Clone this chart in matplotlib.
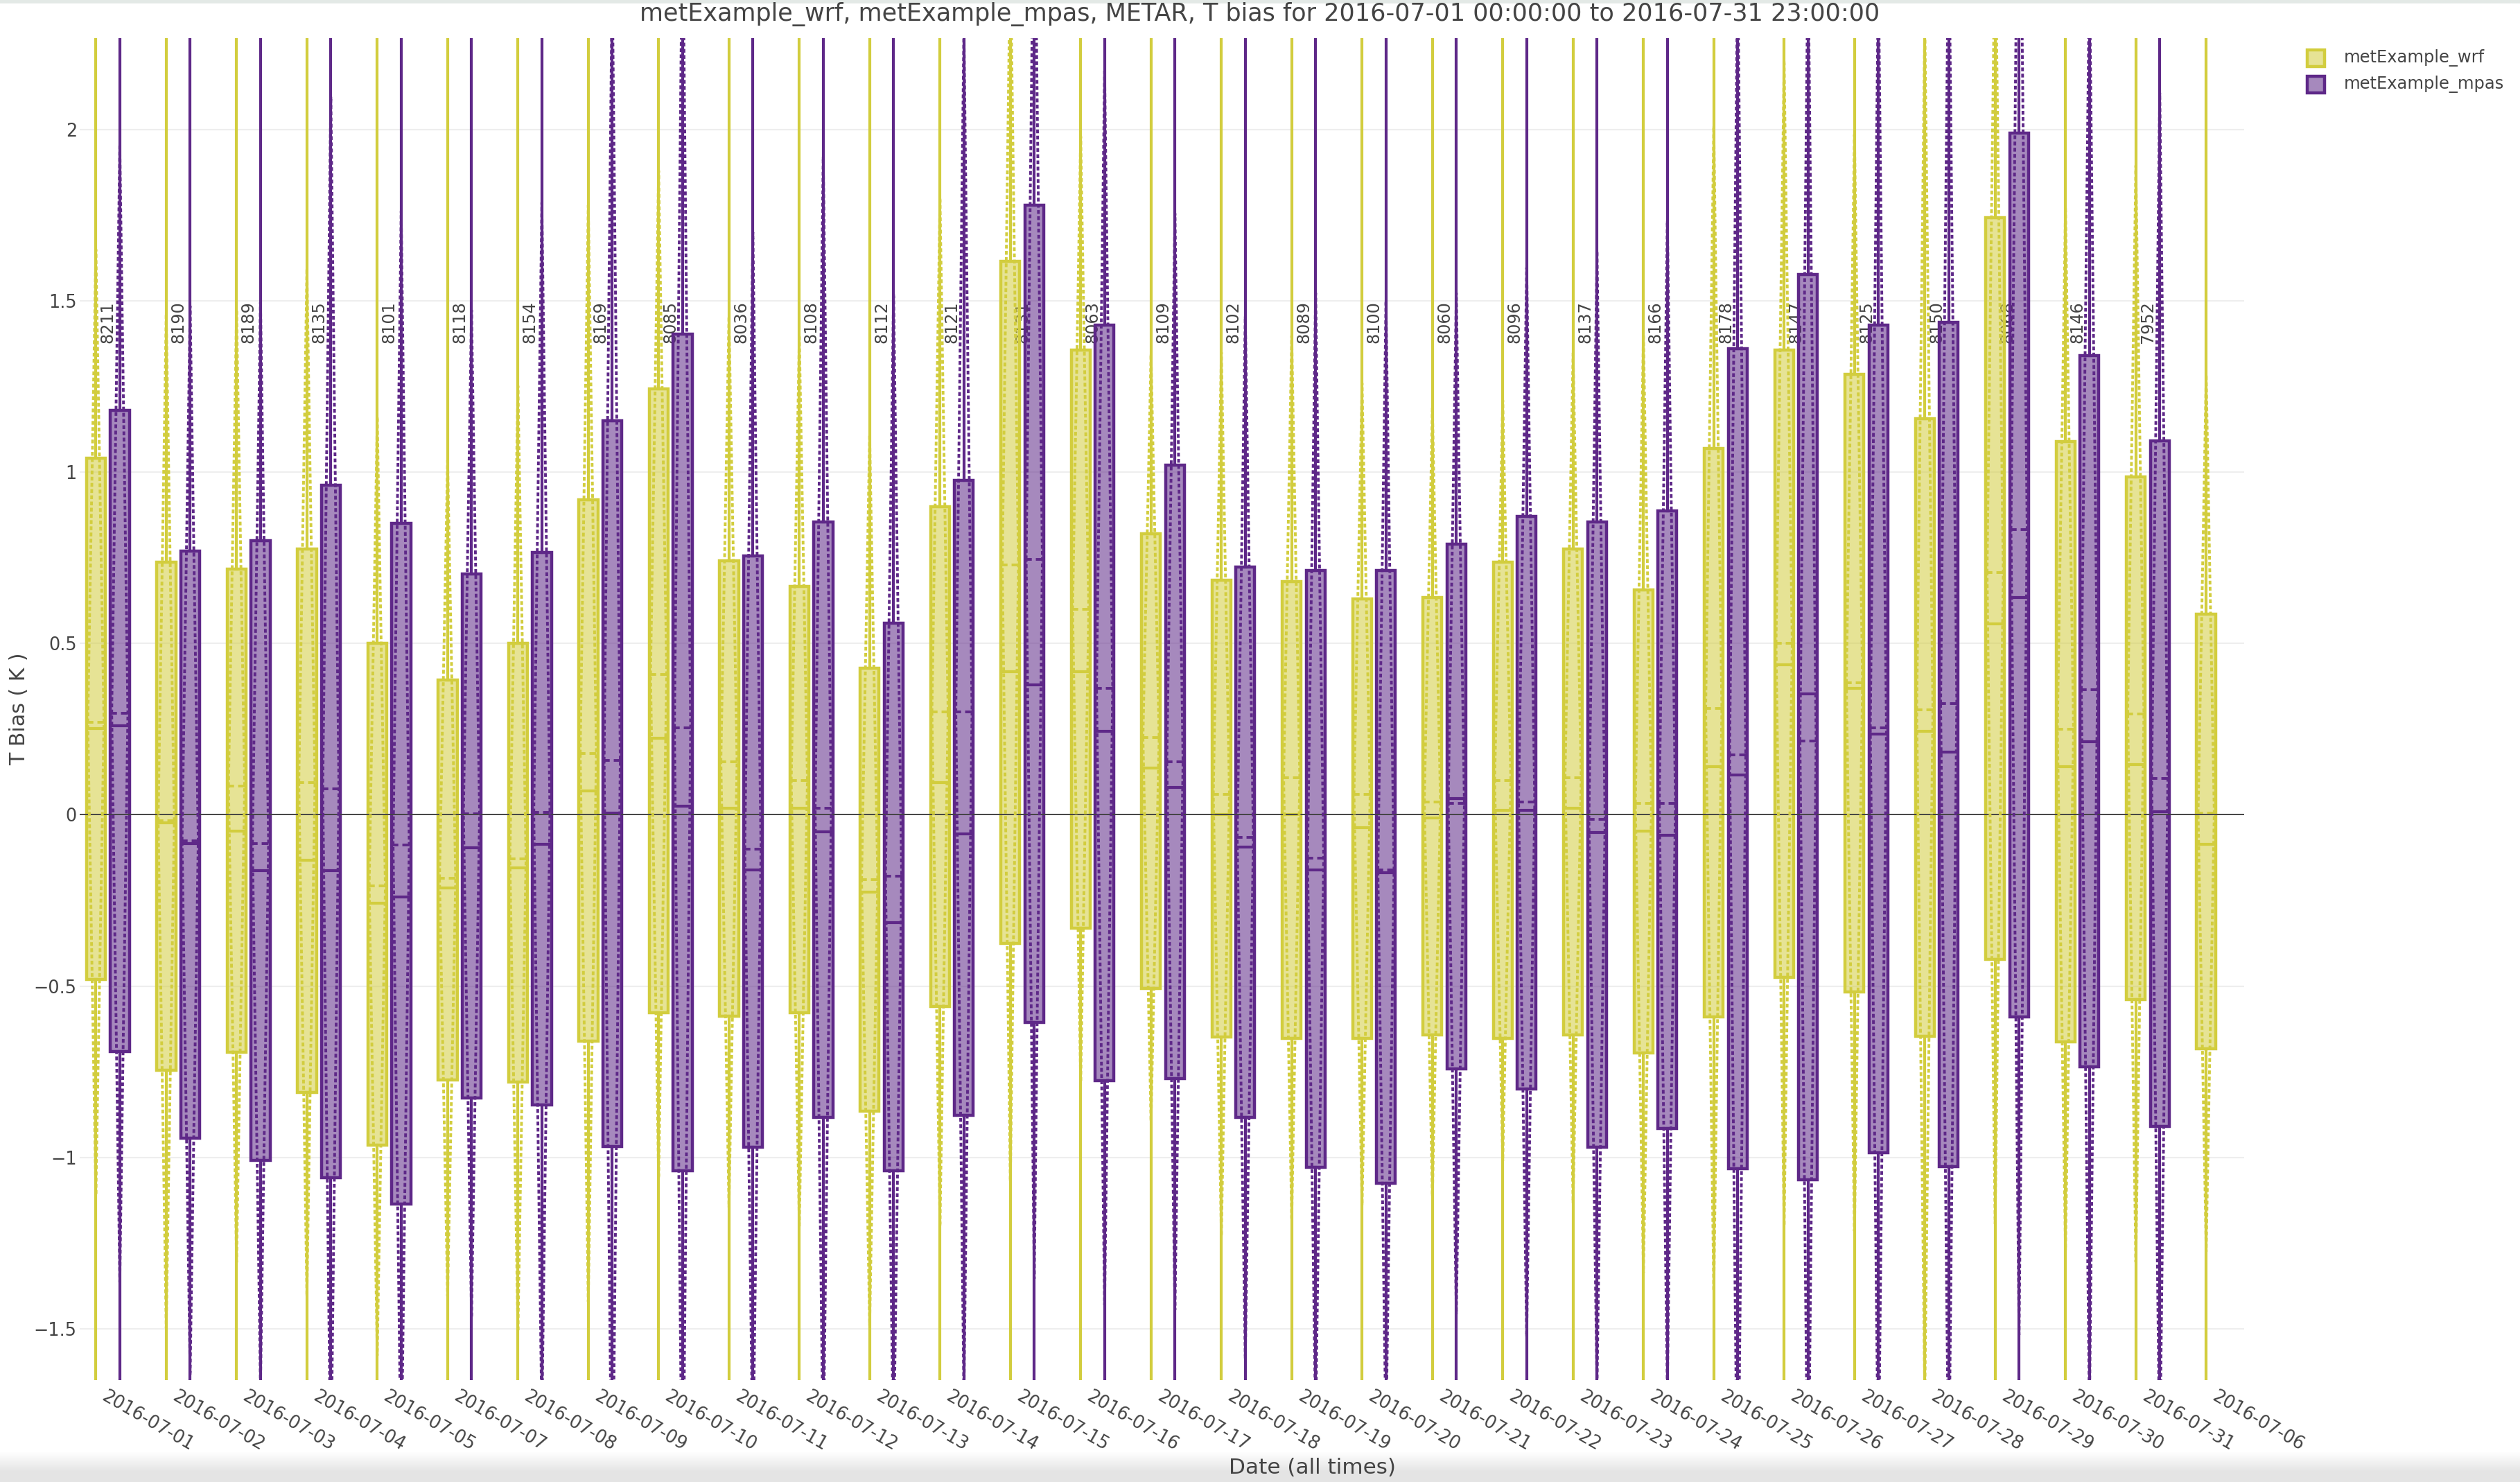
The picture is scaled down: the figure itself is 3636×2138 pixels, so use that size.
"""
box plot of T bias per day for wrf and mpas vs METAR
"""

import numpy as np
import matplotlib
matplotlib.use("Agg")
import matplotlib.pyplot as plt
from matplotlib.patches import Rectangle
from matplotlib.colors import LinearSegmentedColormap


# days on the x axis (07-06 comes last, it only has wrf data)
dates = ['2016-07-01', '2016-07-02', '2016-07-03', '2016-07-04', '2016-07-05',
         '2016-07-07', '2016-07-08', '2016-07-09', '2016-07-10', '2016-07-11',
         '2016-07-12', '2016-07-13', '2016-07-14', '2016-07-15', '2016-07-16',
         '2016-07-17', '2016-07-18', '2016-07-19', '2016-07-20', '2016-07-21',
         '2016-07-22', '2016-07-23', '2016-07-24', '2016-07-25', '2016-07-26',
         '2016-07-27', '2016-07-28', '2016-07-29', '2016-07-30', '2016-07-31',
         '2016-07-06']

# metExample_wrf box stats
wrf_q1 = [-0.48, -0.745, -0.692, -0.81, -0.965, -0.773, -0.779, -0.66, -0.578, -0.587,
          -0.577, -0.864, -0.56, -0.376, -0.33, -0.507, -0.648, -0.653, -0.653, -0.643,
          -0.653, -0.643, -0.695, -0.59, -0.474, -0.516, -0.647, -0.421, -0.662, -0.539,
          -0.682]
wrf_med = [0.252, -0.023, -0.047, -0.132, -0.258, -0.213, -0.154, 0.07, 0.224, 0.02,
           0.02, -0.225, 0.094, 0.418, 0.418, 0.136, 0.0, 0.0, -0.038, -0.01,
           0.014, 0.02, -0.047, 0.14, 0.437, 0.37, 0.244, 0.557, 0.141, 0.146,
           -0.087]
wrf_q3 = [1.04, 0.737, 0.718, 0.775, 0.5, 0.394, 0.5, 0.92, 1.244, 0.742,
          0.667, 0.427, 0.9, 1.615, 1.357, 0.82, 0.685, 0.68, 0.63, 0.634,
          0.737, 0.775, 0.657, 1.07, 1.357, 1.286, 1.157, 1.743, 1.09, 0.987,
          0.586]
wrf_mean = [0.27, -0.018, 0.084, 0.095, -0.208, -0.185, -0.128, 0.179, 0.41, 0.155,
            0.1, -0.19, 0.3, 0.73, 0.6, 0.225, 0.06, 0.108, 0.06, 0.037,
            0.1, 0.108, 0.033, 0.31, 0.5, 0.385, 0.307, 0.707, 0.25, 0.295,
            0.005]
wrf_sd = [1.38, 1.48, 1.39, 1.5, 1.37, 1.22, 1.38, 1.6, 1.47, 1.3,
          1.3, 1.3, 1.5, 1.8, 1.38, 1.12, 1.29, 1.29, 1.2, 1.15,
          1.11, 1.24, 1.37, 1.7, 1.7, 1.6, 2.0, 1.9, 1.52, 1.6,
          1.28]
wrf_whiskers = (-9.0, 9.0)  # whisker ends are off the chart

# metExample_mpas box stats (no data for 07-06)
mpas_q1 = [-0.69, -0.944, -1.009, -1.059, -1.136, -0.827, -0.846, -0.969, -1.038, -0.97,
           -0.883, -1.038, -0.878, -0.606, -0.775, -0.77, -0.883, -1.028, -1.075, -0.742,
           -0.8, -0.97, -0.915, -1.033, -1.066, -0.986, -1.027, -0.589, -0.736, -0.91]
mpas_med = [0.26, -0.084, -0.163, -0.163, -0.239, -0.097, -0.087, 0.006, 0.026, -0.16,
            -0.05, -0.315, -0.056, 0.38, 0.244, 0.08, -0.094, -0.16, -0.169, 0.047,
            0.014, -0.052, -0.06, 0.117, 0.352, 0.235, 0.184, 0.635, 0.213, 0.009]
mpas_q3 = [1.18, 0.77, 0.8, 0.962, 0.85, 0.704, 0.765, 1.15, 1.404, 0.756,
           0.854, 0.559, 0.976, 1.78, 1.43, 1.02, 0.723, 0.714, 0.714, 0.79,
           0.87, 0.854, 0.887, 1.36, 1.577, 1.43, 1.438, 1.99, 1.34, 1.092]
mpas_mean = [0.296, -0.075, -0.084, 0.076, -0.088, 0.003, 0.007, 0.158, 0.254, -0.1,
             0.02, -0.18, 0.3, 0.746, 0.37, 0.155, -0.066, -0.127, -0.16, 0.033,
             0.037, -0.014, 0.033, 0.174, 0.216, 0.253, 0.325, 0.832, 0.365, 0.107]
mpas_sd = [1.66, 1.56, 1.58, 2.02, 1.85, 1.47, 1.78, 2.3, 2.4, 1.8,
           1.9, 1.7, 2.0, 2.1, 1.8, 1.6, 1.52, 1.65, 1.66, 1.49,
           1.56, 1.66, 1.7, 2.3, 2.3, 2.2, 2.3, 2.35, 2.1, 2.0]
mpas_whiskers = (-10.0, 10.0)

# number of pairs per day
counts = [8211, 8190, 8189, 8135, 8101, 8118, 8154, 8169, 8085, 8036,
          8108, 8112, 8121, 8131, 8063, 8109, 8102, 8089, 8100, 8060,
          8096, 8137, 8166, 8178, 8147, 8125, 8150, 8068, 8146, 7952]

WRF_COLOR = '#d2cd3e'
MPAS_COLOR = '#5e2888'
TEXT_COLOR = '#444444'

W, H = 3636, 2138
DPI = 200


def draw_series(ax, positions, q1, med, q3, mean, sd, whiskers, color, width):
    """draws one box series with mean line and sd diamond"""
    stats = []
    for i in range(len(positions)):
        stats.append({'q1': q1[i], 'med': med[i], 'q3': q3[i], 'mean': mean[i],
                      'whislo': whiskers[0], 'whishi': whiskers[1]})
    ax.bxp(stats, positions=positions, widths=width, patch_artist=True,
           showmeans=True, meanline=True, showcaps=False, showfliers=False,
           boxprops=dict(facecolor=matplotlib.colors.to_rgba(color, 0.55),
                         edgecolor=color, linewidth=1.6),
           whiskerprops=dict(color=color, linewidth=1.5),
           medianprops=dict(color=color, linewidth=1.5),
           meanprops=dict(color=color, linewidth=1.4, linestyle=(0, (2.5, 1.5))),
           manage_ticks=False, zorder=2)
    # sd diamonds (dashed)
    hw = width / 2 - 0.02
    for x, m, s in zip(positions, mean, sd):
        ax.plot([x - hw, x, x + hw, x, x - hw], [m, m + s, m, m - s, m],
                color=color, linewidth=1.4, linestyle=(0, (1.4, 0.9)), zorder=2.2)


fig = plt.figure(figsize=(W / DPI, H / DPI), dpi=DPI)
fig.patch.set_facecolor('white')

# page frame bits (top strip and bottom shadow)
fig.patches.append(Rectangle((0, 1 - 5 / H), 1, 5 / H, transform=fig.transFigure,
                             facecolor='#e3e9e6', edgecolor='none', zorder=0))
gax = fig.add_axes([0, 0, 1, 58 / H], zorder=-1)
gax.imshow([[0.0], [1.0]], aspect='auto', interpolation='bilinear',
           cmap=LinearSegmentedColormap.from_list('fade', ['white', '#e4e4e4']),
           extent=(0, 1, 1, 0))
gax.axis('off')

ax = fig.add_axes([115 / W, 1 - 1991 / H, (3238 - 115) / W, (1991 - 55) / H])

x = np.arange(len(dates))
box_w = 0.27
off = 0.17

draw_series(ax, x - off, wrf_q1, wrf_med, wrf_q3, wrf_mean, wrf_sd,
            wrf_whiskers, WRF_COLOR, box_w)
draw_series(ax, x[:len(mpas_q1)] + off, mpas_q1, mpas_med, mpas_q3, mpas_mean,
            mpas_sd, mpas_whiskers, MPAS_COLOR, box_w)

# counts on top of each day
for i, n in enumerate(counts):
    ax.text(x[i], 1.5, str(n), rotation=90, ha='center', va='top',
            fontsize=8.6, color=TEXT_COLOR, zorder=1.5)

# zero line sits over the box fills
ax.axhline(0, color='#444444', linewidth=0.7, zorder=2.1)

ax.set_xlim(-0.40, len(dates) - 1 + 0.37)
ax.set_ylim(-1.65, 2.267)

yt = [-1.5, -1, -0.5, 0, 0.5, 1, 1.5, 2]
ax.set_yticks(yt)
ax.set_yticklabels([('%g' % v).replace('-', '\u2212') for v in yt])
ax.set_xticks(x)
ax.set_xticklabels(dates, rotation=-30, ha='left', va='top', rotation_mode='anchor')
ax.tick_params(axis='both', length=0, labelsize=9.2, labelcolor=TEXT_COLOR)
ax.tick_params(axis='x', pad=4)
ax.tick_params(axis='y', pad=1.5)
ax.yaxis.grid(True, color='#eeeeee', linewidth=0.8)
ax.set_axisbelow(True)
for sp in ax.spines.values():
    sp.set_visible(False)

fig.text(0.5, 1 - 30 / H,
         'metExample_wrf, metExample_mpas, METAR, T bias for 2016-07-01 00:00:00 to 2016-07-31 23:00:00',
         ha='center', va='baseline', fontsize=12.6, color=TEXT_COLOR)
fig.text(28 / W, 1 - 1023 / H, 'T Bias ( K )', rotation=90, ha='center', va='center',
         fontsize=10.8, color=TEXT_COLOR)
fig.text(1893 / W, 1 - 2117 / H, 'Date (all times)', ha='center', va='center',
         fontsize=11.2, color=TEXT_COLOR)

# legend
for yc, name, col in [(84, 'metExample_wrf', WRF_COLOR), (122, 'metExample_mpas', MPAS_COLOR)]:
    fig.patches.append(Rectangle((3329 / W, 1 - (yc + 12) / H), 25 / W, 24 / H,
                                 transform=fig.transFigure,
                                 facecolor=matplotlib.colors.to_rgba(col, 0.55),
                                 edgecolor=col, linewidth=1.6))
    fig.text(3382 / W, 1 - yc / H, name, ha='left', va='center',
             fontsize=8.7, color=TEXT_COLOR)

fig.savefig('out.png', dpi=DPI)
plt.close(fig)
